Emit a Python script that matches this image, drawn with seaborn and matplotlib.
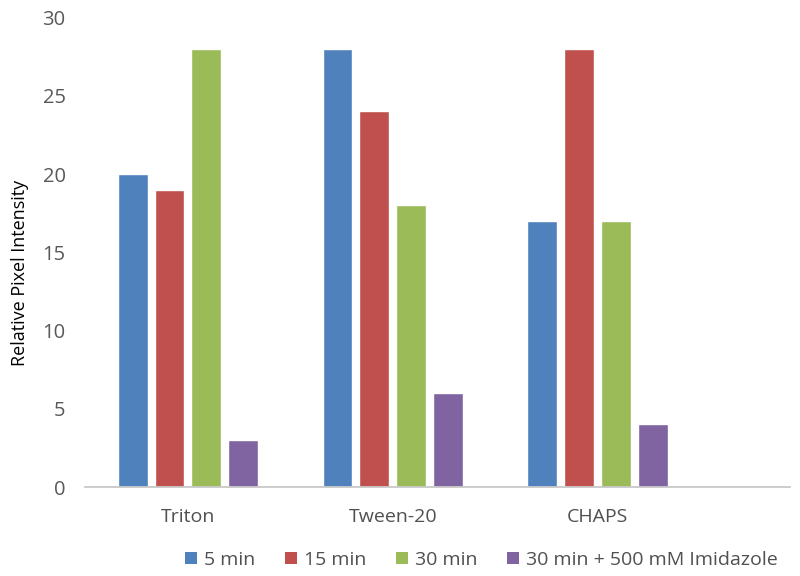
import matplotlib
matplotlib.use("Agg")
import matplotlib.pyplot as plt
import seaborn as sns
import pandas as pd
from matplotlib.patches import Patch

categories = ["Triton", "Tween-20", "CHAPS"]
series = ["5 min", "15 min", "30 min", "30 min + 500 mM Imidazole"]
values_5 = [20, 28, 17]
values_15 = [19, 24, 28]
values_30 = [28, 18, 17]
values_imid = [3, 6, 4]
yticks = [0, 5, 10, 15, 20, 25, 30]
colors = ["#4F81BD", "#C0504D", "#9BBB59", "#8064A2"]

rows = []
for s, vals in zip(series, [values_5, values_15, values_30, values_imid]):
    for c, v in zip(categories, vals):
        rows.append({"Category": c, "Series": s, "Value": v})
df = pd.DataFrame(rows)

sns.set_theme(style="white")
plt.rcParams["font.family"] = ["Open Sans", "DejaVu Sans"]

fig = plt.figure(figsize=(8, 5.76), dpi=100)
ax = fig.add_axes([0.10625, 0.1545, 0.88125, 0.8151])

sns.barplot(data=df, x="Category", y="Value", hue="Series", order=categories,
            hue_order=series, palette=colors, width=0.72, gap=0.19,
            saturation=1, ax=ax, legend=False)

ax.set_xlim(-0.503, 2.94)
ax.set_ylim(0, 30)
ax.set_yticks(yticks)
ax.set_yticklabels([str(t) for t in yticks])
for sp in ["left", "right", "top"]:
    ax.spines[sp].set_visible(False)
ax.spines["bottom"].set_color("#C8C8C8")
ax.spines["bottom"].set_linewidth(1.3)
ax.tick_params(axis="x", length=0, pad=15, labelsize=14, labelcolor="#505050")
ax.tick_params(axis="y", length=0, pad=14, labelsize=14.5, labelcolor="#595959")
ax.set_xlabel("")
ax.set_ylabel("Relative Pixel Intensity", fontsize=13, color="black")
ax.yaxis.set_label_coords(-0.080, 0.455)
ax.grid(False)

handles = [Patch(facecolor=c, edgecolor="none") for c in colors]
fig.legend(handles, series, loc="center", bbox_to_anchor=(0.602, 0.028), ncol=4,
           frameon=False, handlelength=0.6, handleheight=0.6, handletextpad=0.4,
           columnspacing=1.5, fontsize=14, labelcolor="#505050")

fig.savefig("out.png", dpi=100)
